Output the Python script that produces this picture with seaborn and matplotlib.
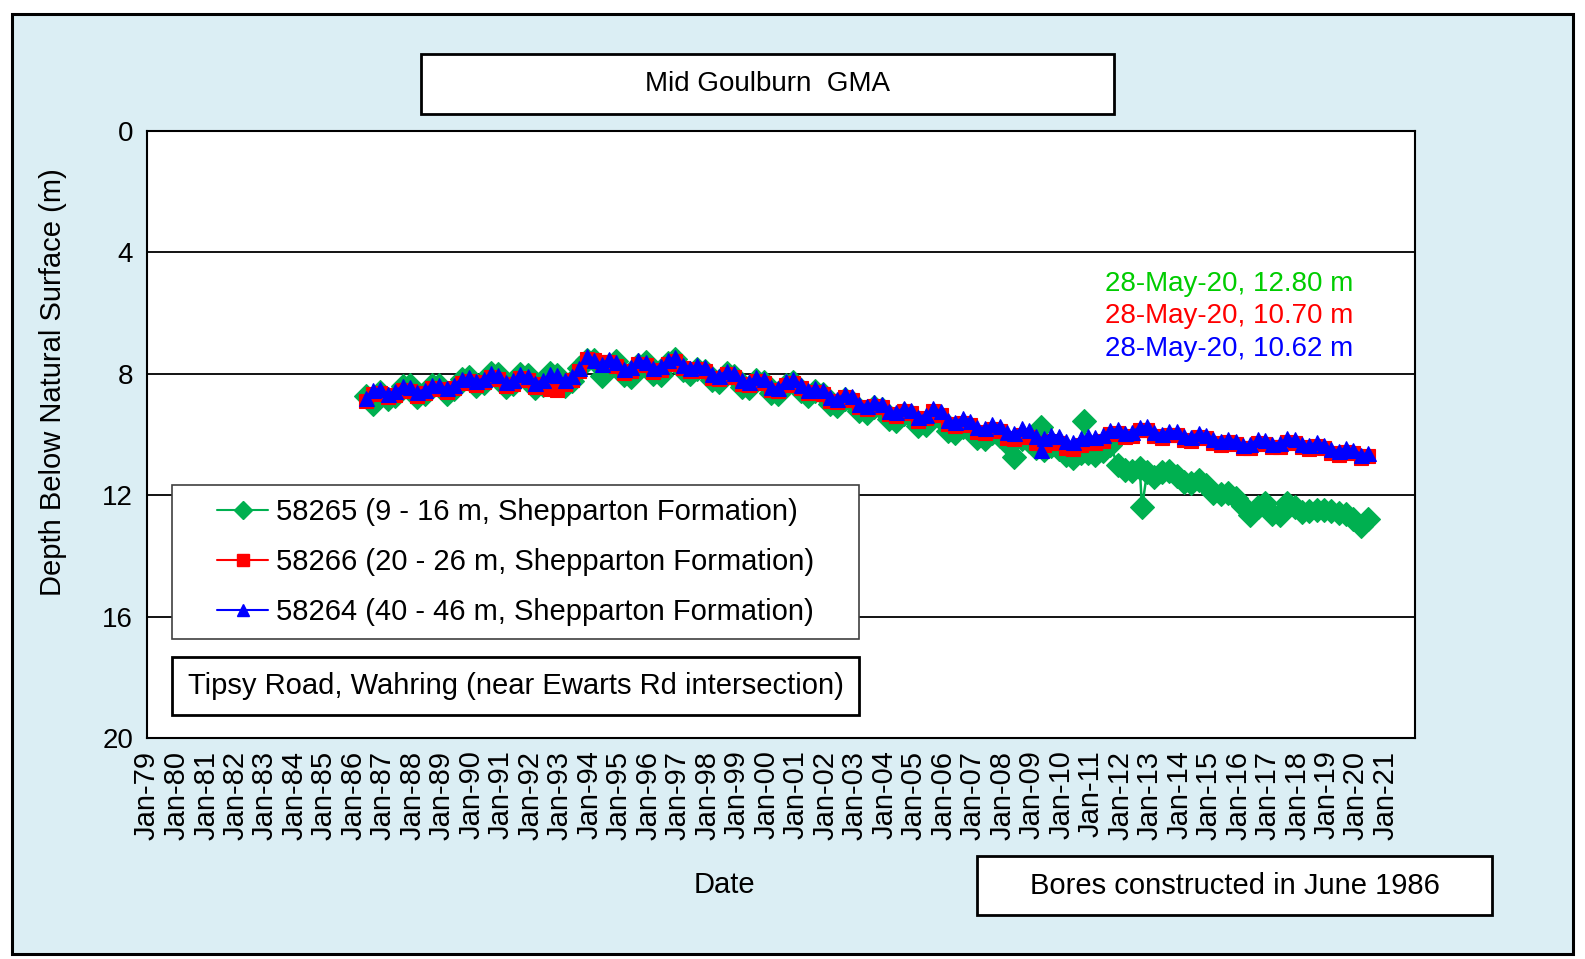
import numpy as np
import pandas as pd
import matplotlib
matplotlib.use("Agg")
import matplotlib.pyplot as plt
import matplotlib.dates as mdates
from matplotlib.patches import Rectangle
from matplotlib.lines import Line2D
import seaborn as sns

sns.set_style("white")
plt.rcParams["font.family"] = ["Liberation Sans", "DejaVu Sans"]
plt.rcParams["text.color"] = "black"
plt.rcParams["axes.labelcolor"] = "black"
plt.rcParams["xtick.color"] = "black"
plt.rcParams["ytick.color"] = "black"

# ---------------- data ----------------
# quarterly readings (Jun-86 ... Mar-20) + final reading 28-May-20
grid_start = "1986-06-01"
grid_end = "2020-03-01"
final_date = "2020-05-28"

# 58265 (9 - 16 m)  depth below natural surface (m)
bore_58265 = [
    8.72, 8.98, 8.60,
    8.82, 8.72, 8.40, 8.36,
    8.78, 8.66, 8.38, 8.36,
    8.66, 8.50, 8.18, 8.10,
    8.40, 8.30, 7.96, 8.00,
    8.44, 8.34, 8.00, 8.04,
    8.46, 8.36, 7.98, 8.04,
    8.40, 8.24, 7.82, 7.55,
    7.55, 8.08, 7.70, 7.58,
    8.05, 8.10, 7.70, 7.62,
    8.02, 8.05, 7.66, 7.52,
    7.86, 8.00, 7.84, 7.90,
    8.22, 8.26, 7.98, 8.06,
    8.44, 8.48, 8.20, 8.26,
    8.64, 8.68, 8.36, 8.26,
    8.58, 8.74, 8.58, 8.66,
    8.98, 9.06, 8.84, 8.92,
    9.24, 9.30, 9.10, 9.16,
    9.50, 9.54, 9.34, 9.40,
    9.72, 9.68, 9.40, 9.50,
    9.90, 9.95, 9.75, 9.84,
    10.12, 10.16, 9.96, 10.06,
    10.28, 10.75, 10.14, 10.22,
    10.44, 10.50, 10.38, 10.48,
    10.68, 10.76, 10.62, 10.62,
    10.66, 10.56, 10.36, 11.00,
    11.16, 11.20, 11.10, 11.25,
    11.40, 11.22, 11.20, 11.38,
    11.56, 11.60, 11.50, 11.66,
    11.92, 11.96, 11.94, 12.08,
    12.36, 12.65, 12.40, 12.26,
    12.62, 12.64, 12.26, 12.38,
    12.54, 12.52, 12.50, 12.48,
    12.52, 12.58, 12.62, 12.80,
    13.03,
]
final_58265 = 12.80
extra_dates_58265 = ["2009-04-25", "2010-10-05", "2012-09-28"]
extra_vals_58265 = [9.75, 9.57, 12.40]

# 58266 (20 - 26 m)
bore_58266 = [
    8.90, 8.66, 8.62,
    8.78, 8.70, 8.52, 8.56,
    8.72, 8.64, 8.48, 8.50,
    8.60, 8.48, 8.30, 8.24,
    8.36, 8.28, 8.10, 8.16,
    8.40, 8.32, 8.14, 8.20,
    8.42, 8.34, 8.50, 8.52,
    8.34, 8.20, 7.92, 7.52,
    7.55, 7.62, 7.60, 7.74,
    7.98, 7.90, 7.67, 7.72,
    7.94, 7.86, 7.67, 7.57,
    7.82, 7.92, 7.84, 7.90,
    8.14, 8.18, 8.02, 8.10,
    8.34, 8.38, 8.24, 8.30,
    8.54, 8.58, 8.36, 8.30,
    8.48, 8.64, 8.60, 8.67,
    8.88, 8.94, 8.78, 8.86,
    9.10, 9.17, 9.06, 9.10,
    9.34, 9.39, 9.24, 9.30,
    9.54, 9.47, 9.24, 9.36,
    9.66, 9.72, 9.62, 9.70,
    9.92, 9.96, 9.82, 9.90,
    10.10, 10.14, 10.02, 10.08,
    10.28, 10.34, 10.22, 10.28,
    10.44, 10.48, 10.34, 10.28,
    10.28, 10.20, 9.98, 9.96,
    10.08, 10.04, 9.86, 9.84,
    10.04, 10.10, 10.00, 10.02,
    10.18, 10.20, 10.07, 10.12,
    10.28, 10.34, 10.26, 10.32,
    10.46, 10.44, 10.28, 10.30,
    10.42, 10.40, 10.25, 10.27,
    10.42, 10.48, 10.38, 10.45,
    10.60, 10.66, 10.57, 10.62,
    10.76,
]
final_58266 = 10.70
extra_dates_58266 = []
extra_vals_58266 = []

# 58264 (40 - 46 m)
bore_58264 = [
    8.80, 8.55, 8.50,
    8.66, 8.58, 8.40, 8.44,
    8.60, 8.52, 8.36, 8.38,
    8.48, 8.36, 8.18, 8.12,
    8.24, 8.16, 7.98, 8.04,
    8.28, 8.20, 8.02, 8.08,
    8.30, 8.22, 8.00, 8.05,
    8.22, 8.08, 7.80, 7.40,
    7.55, 7.68, 7.52, 7.62,
    7.85, 7.78, 7.55, 7.60,
    7.82, 7.74, 7.55, 7.45,
    7.70, 7.80, 7.72, 7.78,
    8.02, 8.06, 7.90, 7.98,
    8.22, 8.26, 8.12, 8.18,
    8.42, 8.46, 8.24, 8.18,
    8.36, 8.52, 8.48, 8.55,
    8.76, 8.82, 8.66, 8.74,
    8.98, 9.05, 8.94, 8.98,
    9.22, 9.27, 9.12, 9.18,
    9.42, 9.35, 9.12, 9.24,
    9.52, 9.58, 9.46, 9.54,
    9.76, 9.80, 9.64, 9.72,
    9.92, 9.95, 9.80, 9.86,
    10.06, 10.12, 10.00, 10.05,
    10.22, 10.26, 10.10, 10.06,
    10.08, 10.02, 9.85, 9.83,
    9.96, 9.92, 9.75, 9.73,
    9.92, 9.98, 9.88, 9.90,
    10.06, 10.08, 9.95, 10.00,
    10.16, 10.22, 10.14, 10.20,
    10.34, 10.32, 10.16, 10.18,
    10.30, 10.28, 10.13, 10.15,
    10.30, 10.36, 10.26, 10.33,
    10.48, 10.54, 10.45, 10.50,
    10.66,
]
final_58264 = 10.62
extra_dates_58264 = ["2009-04-25"]
extra_vals_58264 = [10.50]

labels = [
    "58265 (9 - 16 m, Shepparton Formation)",
    "58266 (20 - 26 m, Shepparton Formation)",
    "58264 (40 - 46 m, Shepparton Formation)",
]
latest_text = ["28-May-20, 12.80 m", "28-May-20, 10.70 m", "28-May-20, 10.62 m"]
tick_years = list(range(1979, 2022))
y_ticks = [0, 4, 8, 12, 16, 20]

# ---------------- build frames ----------------
grid = pd.date_range(grid_start, grid_end, freq="3MS")


def make_frame(vals, final, ex_d, ex_v):
    d = list(grid) + [pd.Timestamp(final_date)] + [pd.Timestamp(x) for x in ex_d]
    v = list(vals) + [final] + list(ex_v)
    return pd.DataFrame({"date": d, "depth": v}).sort_values("date")


df65 = make_frame(bore_58265, final_58265, extra_dates_58265, extra_vals_58265)
df66 = make_frame(bore_58266, final_58266, extra_dates_58266, extra_vals_58266)
df64 = make_frame(bore_58264, final_58264, extra_dates_58264, extra_vals_58264)

GREEN = "#00B050"
RED = "#FF0000"
BLUE = "#0000FF"

# ---------------- figure ----------------
W, H = 1585, 959
fig = plt.figure(figsize=(W / 100, H / 100), dpi=100)
fig.patch.set_facecolor("white")


def fx(px):
    return px / W


def fy(py):
    return 1 - py / H


# outer light-blue panel
fig.add_artist(Rectangle((fx(12), fy(954)), fx(1573) - fx(12), fy(14) - fy(954),
                         transform=fig.transFigure, facecolor="#DBEEF4",
                         edgecolor="black", lw=2.2, zorder=-1))

ax = fig.add_axes([fx(147), fy(738), fx(1415) - fx(147), fy(131) - fy(738)])
ax.set_facecolor("white")

sns.lineplot(data=df65, x="date", y="depth", ax=ax, color=GREEN, marker="D",
             markersize=12, markeredgecolor=GREEN, markeredgewidth=0.8,
             lw=1.8, estimator=None, legend=False, zorder=3)
sns.lineplot(data=df66, x="date", y="depth", ax=ax, color=RED, marker="s",
             markersize=9.6, markeredgecolor=RED, markeredgewidth=0.8,
             lw=1.8, estimator=None, legend=False, zorder=4)
sns.lineplot(data=df64, x="date", y="depth", ax=ax, color=BLUE, marker="^",
             markersize=10.8, markeredgecolor=BLUE, markeredgewidth=0.8,
             lw=1.8, estimator=None, legend=False, zorder=5)

ax.set_xlim(pd.Timestamp("1979-01-01"), pd.Timestamp("2022-01-01"))
ax.set_ylim(20, 0)
ax.set_yticks(y_ticks)
ax.xaxis.set_major_locator(matplotlib.ticker.FixedLocator(
    [mdates.date2num(pd.Timestamp(f"{y}-01-01")) for y in tick_years]))
ax.xaxis.set_major_formatter(mdates.DateFormatter("%b-%y"))
ax.tick_params(axis="x", direction="out", length=6, width=1.2, pad=3,
               labelsize=21, colors="black", rotation=90)
ax.tick_params(axis="y", direction="out", length=6, width=1.2, pad=4,
               labelsize=20, colors="black")
ax.yaxis.grid(True, color="black", lw=1.3)
ax.xaxis.grid(False)
ax.set_axisbelow(True)
for s in ax.spines.values():
    s.set_visible(True)
    s.set_color("black")
    s.set_linewidth(1.5)
ax.set_xlabel("")
ax.set_ylabel("")

# axis titles
fig.text(fx(53), fy(382), "Depth Below Natural Surface (m)", rotation=90,
         ha="center", va="center", fontsize=21)
fig.text(fx(724), fy(885), "Date", ha="center", va="center", fontsize=21)


def boxed_text(x0, y0, x1, y1, txt, lw=2.0, ec="black", fs=21):
    fig.add_artist(Rectangle((fx(x0), fy(y1)), fx(x1) - fx(x0), fy(y0) - fy(y1),
                             transform=fig.transFigure, facecolor="white",
                             edgecolor=ec, lw=lw, zorder=3))
    if txt:
        fig.text(fx((x0 + x1) / 2), fy((y0 + y1) / 2), txt, ha="center",
                 va="center", fontsize=fs, zorder=6)


boxed_text(421, 54, 1114, 114, "Mid Goulburn  GMA", fs=20)
boxed_text(172, 485, 859, 639, "", lw=1.2, ec="#404040")
boxed_text(172, 657, 859, 715, "Tipsy Road, Wahring (near Ewarts Rd intersection)")
boxed_text(977, 856, 1492, 915, "Bores constructed in June 1986")

handles = [
    Line2D([], [], color=GREEN, marker="D", ms=9.5, lw=1.5),
    Line2D([], [], color=RED, marker="s", ms=8.5, lw=1.5),
    Line2D([], [], color=BLUE, marker="^", ms=9, lw=1.5),
]
leg = fig.legend(handles, labels, loc="center",
                 bbox_to_anchor=(fx(515.5), fy(562)), frameon=False,
                 fontsize=21, handlelength=1.75, handletextpad=0.25,
                 labelspacing=0.76, borderpad=0.2)
leg.set_zorder(6)

# latest readings
for txt, col, py in zip(latest_text, ["#00CC00", RED, BLUE], [284, 316, 349]):
    fig.text(fx(1105), fy(py), txt, color=col, fontsize=20, ha="left",
             va="center")

fig.savefig("out.png", dpi=100)
